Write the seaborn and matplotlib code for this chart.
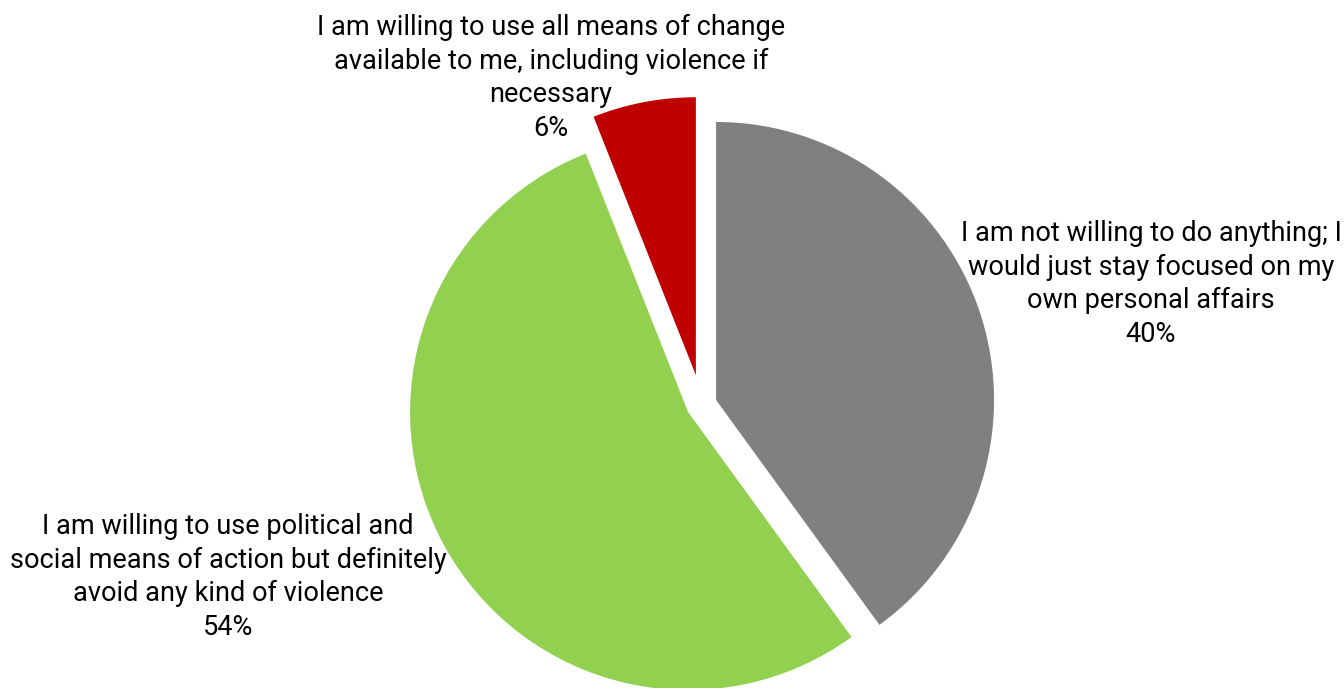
import matplotlib
matplotlib.use("Agg")
import matplotlib.pyplot as plt
import seaborn as sns

# Survey answers, in clockwise order from 12 o'clock
categories = [
    "I am not willing to do anything; I\nwould just stay focused on my\nown personal affairs",
    "I am willing to use political and\nsocial means of action but definitely\navoid any kind of violence",
    "I am willing to use all means of change\navailable to me, including violence if\nnecessary",
]
shares = [40, 54, 6]
colors = ["#808080", "#92D050", "#C00000"]
explode_px = [15.3, 15.3, 30.0]

sns.set_theme(style="white")
plt.rcParams["font.family"] = ["Roboto", "DejaVu Sans"]

W, H = 1344, 688
fig = plt.figure(figsize=(W / 100, H / 100), dpi=100)
ax = fig.add_axes([0, 0, 1, 1])

ax.pie(
    shares,
    colors=colors,
    explode=explode_px,
    startangle=90,
    counterclock=False,
    center=(701.5, H - 404.7),
    radius=278,
    wedgeprops=dict(linewidth=0),
    frame=True,
)
ax.set_xlim(0, W)
ax.set_ylim(0, H)
ax.set_aspect("equal")
ax.axis("off")

# label anchor points (centre of each text block)
label_pos = [(1151, H - 284), (228, H - 577), (551, H - 78)]
for cat, val, (lx, ly) in zip(categories, shares, label_pos):
    ax.text(lx, ly, f"{cat}\n{val}%", ha="center", va="center",
            fontsize=19.5, color="#000000", linespacing=1.31)

fig.savefig("out.png", dpi=100, facecolor="white")
